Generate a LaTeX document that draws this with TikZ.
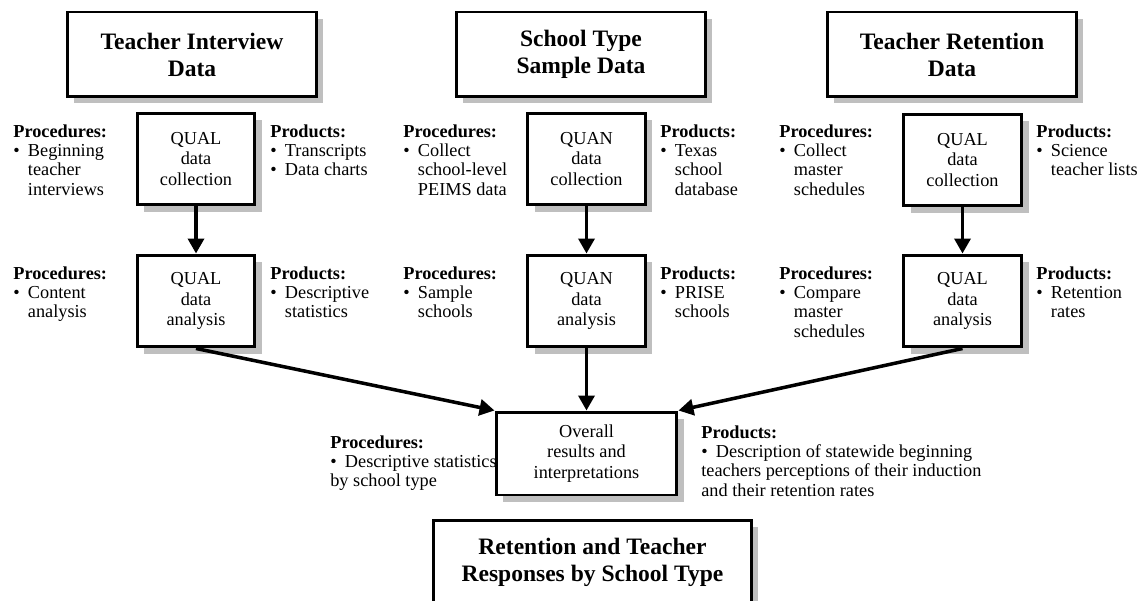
\documentclass[tikz,border=0pt]{standalone}
\usepackage{fontspec}
\setmainfont{Liberation Serif}
\usepackage{tikz}
\usetikzlibrary{shadows}
\usetikzlibrary{arrows.meta}

\newcommand{\itm}{\makebox[0.8em][l]{\textbullet}}
\newcommand{\ind}{\hspace*{0.8em}}

\tikzset{
  databox/.style={draw, line width=1.7pt, fill=white, minimum width=5cm, minimum height=1.7cm,
    align=center, font=\bfseries\fontsize{13.4}{15.4}\selectfont,
    drop shadow={shadow xshift=0.13cm, shadow yshift=-0.13cm, fill=black!25, opacity=1}},
  stagebox/.style={draw, line width=1.7pt, fill=white, minimum width=2.36cm, minimum height=1.84cm,
    align=center, font=\fontsize{10.4}{11.8}\selectfont,
    drop shadow={shadow xshift=0.14cm, shadow yshift=-0.14cm, fill=black!25, opacity=1}},
  info/.style={anchor=north west, align=left, inner sep=0pt, font=\fontsize{10.4}{11}\selectfont},
  flow/.style={line width=2pt, -{Triangle[length=0.3cm, width=0.32cm]}}
}

\begin{document}
\begin{tikzpicture}[x=0.02cm, y=-0.02cm]
       \useasboundingbox (0,0) rectangle (1139,601);

       \node[databox] (D1) at (192,54.5) {Teacher Interview\\Data};
       \node[databox] (D2) at (581,54.5) {School Type\\Sample Data};
       \node[databox] (D3) at (952,54.5) {Teacher Retention\\Data};

       \node[stagebox] (C1) at (196,159) {QUAL\\data\\collection};
       \node[stagebox] (C2) at (586.5,159) {QUAN\\data\\collection};
       \node[stagebox] (C3) at (962.5,160) {QUAL\\data\\collection};

       \node[stagebox] (A1) at (196,301) {QUAL\\data\\analysis};
       \node[stagebox] (A2) at (586.5,301) {QUAN\\data\\analysis};
       \node[stagebox] (A3) at (962.5,301) {QUAL\\data\\analysis};

       \node[stagebox, minimum width=3.62cm, minimum height=1.66cm] (O) at (586.5,453.5) {Overall\\results and\\interpretations};

       \node[databox, minimum width=6.38cm] (R) at (592.5,562.5) {Retention and Teacher\\Responses by School Type};

       \node[info] (PC1) at (13,124) {\textbf{Procedures:}\\\itm Beginning\\\ind teacher\\\ind interviews};
       \node[info] (RC1) at (270,124) {\textbf{Products:}\\\itm Transcripts\\\itm Data charts};
       \node[info] (PC2) at (403,124) {\textbf{Procedures:}\\\itm Collect\\\ind school-level\\\ind PEIMS data};
       \node[info] (RC2) at (660,124) {\textbf{Products:}\\\itm Texas\\\ind school\\\ind database};
       \node[info] (PC3) at (779,124) {\textbf{Procedures:}\\\itm Collect\\\ind master\\\ind schedules};
       \node[info] (RC3) at (1036,124) {\textbf{Products:}\\\itm Science\\\ind teacher lists};

       \node[info] (PA1) at (13,266) {\textbf{Procedures:}\\\itm Content\\\ind analysis};
       \node[info] (RA1) at (270,266) {\textbf{Products:}\\\itm Descriptive\\\ind statistics};
       \node[info] (PA2) at (403,266) {\textbf{Procedures:}\\\itm Sample\\\ind schools};
       \node[info] (RA2) at (660,266) {\textbf{Products:}\\\itm PRISE\\\ind schools};
       \node[info] (PA3) at (779,266) {\textbf{Procedures:}\\\itm Compare\\\ind master\\\ind schedules};
       \node[info] (RA3) at (1036,266) {\textbf{Products:}\\\itm Retention\\\ind rates};

       \node[info] (PO) at (330,435) {\textbf{Procedures:}\\\itm Descriptive statistics\\by school type};
       \node[info] (RO) at (701,425) {\textbf{Products:}\\\itm Description of statewide beginning\\teachers perceptions of their induction\\and their retention rates};

       \draw[flow] (C1) -- (A1);
       \draw[flow] (C2) -- (A2);
       \draw[flow] (C3) -- (A3);

       \draw[flow] (A1.south) -- (O.north west);
       \draw[flow] (A2) -- (O);
       \draw[flow] (A3.south) -- (O.north east);
\end{tikzpicture}
\end{document}
